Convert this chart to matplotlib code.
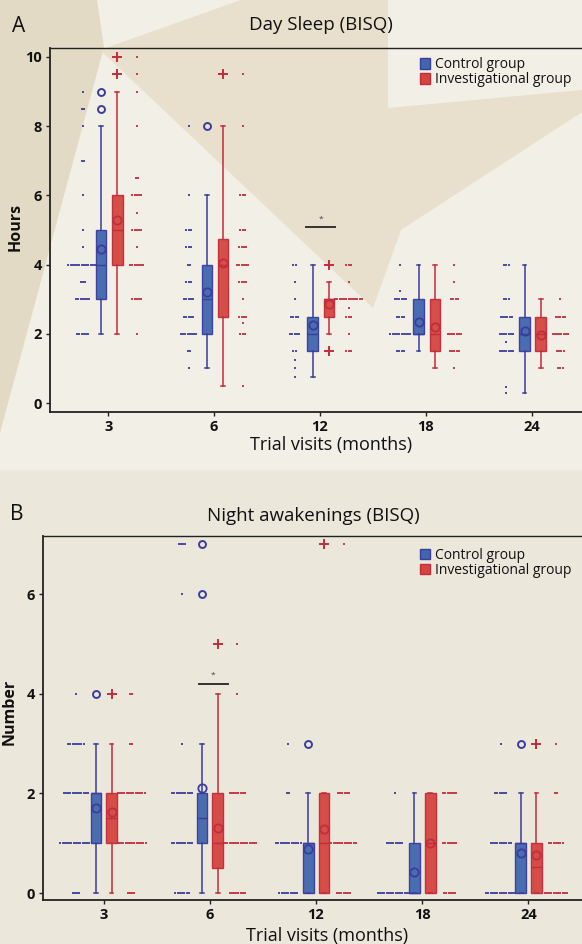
import matplotlib
matplotlib.use('Agg')
import matplotlib.pyplot as plt
from matplotlib.patches import Polygon, Patch
import numpy as np

plt.rcParams['font.family'] = ['Open Sans', 'DejaVu Sans']

visits = ['3', '6', '12', '18', '24']
groups = ['Control group', 'Investigational group']

# ---------------- Panel A: Day Sleep (hours) ----------------
A_ctrl_q1 = [3, 2, 1.5, 2, 1.5]
A_ctrl_med = [4, 3, 2, 2, 2]
A_ctrl_q3 = [5, 4, 2.5, 3, 2.5]
A_ctrl_lo = [2, 1, 0.75, 1.5, 0.3]
A_ctrl_hi = [8, 6, 4, 4, 4]
A_ctrl_mean = [4.45, 3.2, 2.25, 2.35, 2.08]
A_ctrl_out = [[8.5, 9], [8], [], [], []]

A_inv_q1 = [4, 2.5, 2.5, 1.5, 1.5]
A_inv_med = [5, 4, 3, 2, 2]
A_inv_q3 = [6, 4.75, 3, 3, 2.5]
A_inv_lo = [2, 0.5, 2, 1, 1]
A_inv_hi = [9, 8, 3.5, 4, 3]
A_inv_mean = [5.3, 4.05, 2.85, 2.2, 1.97]
A_inv_out = [[9.5, 10], [9.5], [4, 1.5], [], []]

A_ctrl_dot_vals = [[9, 8.5, 8, 7, 6, 5, 4.5, 4, 3.5, 3, 2],
                   [8, 6, 5, 4.5, 4, 3.5, 3, 2.5, 2, 1.5, 1],
                   [4, 3.5, 3, 2.5, 2, 1.5, 1.25, 1, 0.75],
                   [4, 3.25, 3, 2.5, 2, 1.5],
                   [4, 3, 2.5, 2, 1.75, 1.5, 0.45, 0.3]]
A_ctrl_dot_counts = [[1, 2, 1, 2, 1, 1, 1, 14, 3, 7, 6],
                     [1, 1, 3, 3, 2, 3, 5, 5, 8, 2, 1],
                     [2, 1, 1, 4, 5, 2, 1, 1, 1],
                     [1, 1, 6, 4, 10, 4],
                     [3, 3, 6, 7, 1, 7, 1, 1]]
A_inv_dot_vals = [[10, 9.5, 9, 8, 6.5, 6, 5.5, 5, 4.5, 4, 3, 2],
                  [9.5, 8, 6, 5, 4.5, 4, 3.5, 3, 2.5, 2.3, 2, 0.5],
                  [4, 3.5, 3, 2.75, 2.5, 2, 1.5],
                  [4, 3.5, 3, 2, 1.5, 1],
                  [3, 2.5, 2, 1.5, 1]]
A_inv_dot_counts = [[1, 1, 1, 1, 2, 5, 1, 5, 1, 7, 5, 1],
                    [1, 1, 3, 3, 4, 6, 4, 1, 4, 1, 3, 1],
                    [3, 1, 13, 1, 3, 1, 3],
                    [1, 1, 4, 7, 5, 1],
                    [1, 5, 8, 4, 3]]

# ---------------- Panel B: Night awakenings (number) ----------------
B_ctrl_q1 = [1, 1, 0, 0, 0]
B_ctrl_med = [2, 1.5, 1, 0, 1]
B_ctrl_q3 = [2, 2, 1, 1, 1]
B_ctrl_lo = [0, 0, 0, 0, 0]
B_ctrl_hi = [3, 3, 2, 2, 2]
B_ctrl_mean = [1.71, 2.1, 0.88, 0.42, 0.8]
B_ctrl_out = [[4], [6, 7], [3], [], [3]]

B_inv_q1 = [1, 0.5, 0, 0, 0]
B_inv_med = [1.5, 1, 1, 1, 0.52]
B_inv_q3 = [2, 2, 2, 2, 1]
B_inv_lo = [0, 0, 0, 0, 0]
B_inv_hi = [3, 4, 2, 2, 2]
B_inv_mean = [1.63, 1.3, 1.28, 1.0, 0.76]
B_inv_out = [[4], [5], [7], [], [3]]

B_ctrl_dot_vals = [[4, 3, 2, 1, 0], [7, 6, 3, 2, 1, 0], [3, 2, 1, 0], [2, 1, 0], [3, 2, 1, 0]]
B_ctrl_dot_counts = [[1, 8, 12, 15, 4], [4, 1, 1, 10, 10, 7], [1, 2, 12, 9], [1, 8, 16], [1, 6, 10, 14]]
B_inv_dot_vals = [[4, 3, 2, 1, 0], [5, 4, 2, 1, 0], [7, 2, 1, 0], [2, 1, 0], [3, 2, 1, 0]]
B_inv_dot_counts = [[2, 2, 13, 14, 4], [1, 1, 8, 18, 8], [1, 6, 12, 7], [7, 7, 6], [1, 2, 7, 11]]

# ---------------- styling ----------------
W, H = 582, 944
BLUE_FILL = '#4166ae'
BLUE_EDGE = '#3a3c9e'
RED_FILL = '#d5453f'
RED_EDGE = '#c22c3c'
BG_MID = '#ebe7db'
BG_DARK = '#e3dac5'
BG_TAN = '#e8e0cd'
BG_LIGHT = '#f2efe6'
INK = '#111111'


def fx(x):
    return x / W


def fy(y):
    return 1 - y / H


fig = plt.figure(figsize=(W / 100, H / 100), dpi=100)
fig.patch.set_facecolor(BG_MID)


def bgpoly(pts, color):
    fig.patches.append(Polygon([(fx(x), fy(y)) for x, y in pts], closed=True,
                               transform=fig.transFigure, facecolor=color,
                               edgecolor='none', zorder=-10))


bgpoly([(0, 0), (582, 0), (582, 470), (0, 470)], BG_LIGHT)
bgpoly([(0, 0), (97, 0), (104, 47), (0, 433)], BG_DARK)
bgpoly([(100, 50), (241, 0), (388, 0), (388, 108), (582, 90), (582, 112),
        (401, 230), (373, 308)], BG_TAN)
bgpoly([(0, 470), (582, 470), (582, 944), (0, 944)], BG_MID)


def make_stats(q1, med, q3, lo, hi, mean, out):
    return [dict(q1=q1[i], med=med[i], q3=q3[i], whislo=lo[i], whishi=hi[i],
                 mean=mean[i], fliers=out[i]) for i in range(len(q1))]


def draw_group(ax, stats, pos, fill, edge, flier_marker):
    fp = dict(marker=flier_marker, markerfacecolor='none', markeredgecolor=edge,
              markersize=5 if flier_marker == 'o' else 6.5, markeredgewidth=1.4,
              linestyle='none')
    ax.bxp(stats, positions=pos, widths=0.1, patch_artist=True, showmeans=True,
           boxprops=dict(facecolor=fill, edgecolor=edge, linewidth=1.0, alpha=0.95),
           medianprops=dict(color=edge, linewidth=1.0),
           whiskerprops=dict(color=edge, linewidth=1.1),
           capprops=dict(color=edge, linewidth=1.1), capwidths=0.035,
           meanprops=dict(marker='o', markerfacecolor='none', markeredgecolor=edge,
                          markersize=6, markeredgewidth=1.3),
           flierprops=fp, manage_ticks=False)


def draw_dots(ax, vals, counts, offset, color, sp=0.021):
    for i in range(len(vals)):
        for v, n in zip(vals[i], counts[i]):
            xs = i + offset + (np.arange(n) - (n - 1) / 2) * sp
            ax.plot(xs, [v] * n, linestyle='none', marker='s', markersize=2.1,
                    color=color, markeredgewidth=0, alpha=0.9)


def style_axes(ax, yticks):
    ax.set_facecolor('none')
    ax.spines['right'].set_visible(False)
    for s in ['left', 'bottom', 'top']:
        ax.spines[s].set_color('#222222')
        ax.spines[s].set_linewidth(1.3 if s != 'top' else 1.0)
    ax.set_xticks(range(len(visits)))
    ax.set_xticklabels(visits)
    ax.set_yticks(yticks)
    ax.tick_params(axis='both', labelsize=10.5, length=3, width=1, color='#222222',
                   labelcolor=INK, pad=3)
    for lab in ax.get_xticklabels() + ax.get_yticklabels():
        lab.set_fontweight('bold')


def legend(ax, x, y):
    handles = [Patch(facecolor=BLUE_FILL, edgecolor=BLUE_EDGE, label=groups[0]),
               Patch(facecolor=RED_FILL, edgecolor=RED_EDGE, label=groups[1])]
    leg = ax.legend(handles=handles, loc='upper left', bbox_to_anchor=(x, y), frameon=False,
                    fontsize=10, handlelength=0.7, handleheight=0.8, handletextpad=0.4,
                    labelspacing=0.0, borderpad=0, borderaxespad=0)
    for t in leg.get_texts():
        t.set_color(INK)


idx = np.arange(len(visits))

# ---------- Panel A ----------
axA = fig.add_axes([fx(50), fy(412), 1 - fx(50) + 0.01, (412 - 48) / H])
draw_dots(axA, A_ctrl_dot_vals, A_ctrl_dot_counts, -0.24, BLUE_EDGE)
draw_dots(axA, A_inv_dot_vals, A_inv_dot_counts, 0.27, RED_EDGE)
draw_group(axA, make_stats(A_ctrl_q1, A_ctrl_med, A_ctrl_q3, A_ctrl_lo, A_ctrl_hi,
                           A_ctrl_mean, A_ctrl_out), idx - 0.068, BLUE_FILL, BLUE_EDGE, 'o')
draw_group(axA, make_stats(A_inv_q1, A_inv_med, A_inv_q3, A_inv_lo, A_inv_hi,
                           A_inv_mean, A_inv_out), idx + 0.085, RED_FILL, RED_EDGE, '+')
axA.set_xlim(-0.55, 4.53)
axA.set_ylim(-0.26, 10.26)
style_axes(axA, [0, 2, 4, 6, 8, 10])
axA.plot([1.87, 2.14], [5.1, 5.1], color='#333333', linewidth=1.4)
axA.text(2.005, 5.2, '*', ha='center', va='bottom', fontsize=6, color='#444444')
legend(axA, 0.688, 0.975)

# ---------- Panel B ----------
axB = fig.add_axes([fx(43), fy(900), 1 - fx(43) + 0.01, (900 - 536) / H])
draw_dots(axB, B_ctrl_dot_vals, B_ctrl_dot_counts, -0.26, BLUE_EDGE)
draw_dots(axB, B_inv_dot_vals, B_inv_dot_counts, 0.26, RED_EDGE)
draw_group(axB, make_stats(B_ctrl_q1, B_ctrl_med, B_ctrl_q3, B_ctrl_lo, B_ctrl_hi,
                           B_ctrl_mean, B_ctrl_out), idx - 0.072, BLUE_FILL, BLUE_EDGE, 'o')
draw_group(axB, make_stats(B_inv_q1, B_inv_med, B_inv_q3, B_inv_lo, B_inv_hi,
                           B_inv_mean, B_inv_out), idx + 0.076, RED_FILL, RED_EDGE, '+')
axB.set_xlim(-0.57, 4.56)
axB.set_ylim(-0.14, 7.17)
style_axes(axB, [0, 2, 4, 6])
axB.plot([0.9, 1.17], [4.2, 4.2], color='#333333', linewidth=1.4)
axB.text(1.03, 4.3, '*', ha='center', va='bottom', fontsize=6, color='#444444')
legend(axB, 0.692, 0.967)

# ---------- texts ----------
fig.text(fx(19), fy(26), 'A', fontsize=15, ha='center', va='center', color=INK)
fig.text(fx(321), fy(25), 'Day Sleep (BISQ)', fontsize=13.5, ha='center', va='center', color=INK)
fig.text(fx(331), fy(445), 'Trial visits (months)', fontsize=13, ha='center', va='center', color=INK)
fig.text(fx(16), fy(227), 'Hours', fontsize=11.5, fontweight='bold', rotation=90,
         ha='center', va='center', color=INK)

fig.text(fx(17), fy(514), 'B', fontsize=15, ha='center', va='center', color=INK)
fig.text(fx(313), fy(516), 'Night awakenings (BISQ)', fontsize=13.5, ha='center', va='center', color=INK)
fig.text(fx(327), fy(936), 'Trial visits (months)', fontsize=13, ha='center', va='center', color=INK)
fig.text(fx(10), fy(712), 'Number', fontsize=11.5, fontweight='bold', rotation=90,
         ha='center', va='center', color=INK)

fig.savefig('out.png', dpi=100, facecolor=fig.get_facecolor())
